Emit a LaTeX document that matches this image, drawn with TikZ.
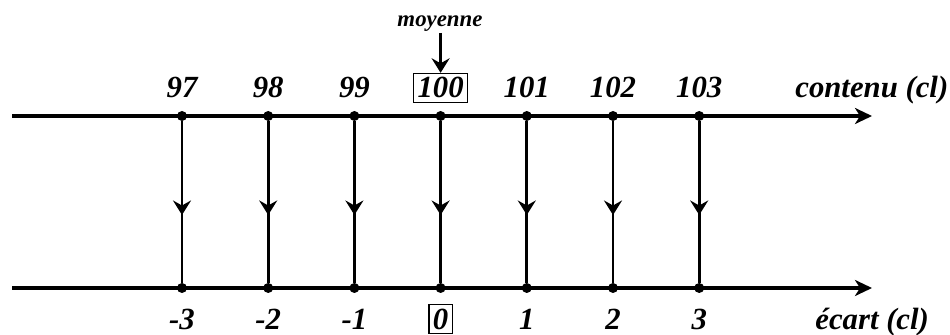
\documentclass[tikz,border=0pt]{standalone}
\usepackage{fontspec}
\setmainfont{Liberation Serif}
\usetikzlibrary{arrows.meta, positioning}

\begin{document}
\begin{tikzpicture}[>={Stealth[length=3.4mm, width=3.2mm, inset=1mm]}, font=\fontsize{17.5}{20}\selectfont\bfseries\itshape]
	\tikzstyle{dot} = [circle, fill, inner sep=0pt, minimum size=2mm]
	\tikzstyle{lab} = [anchor=base, inner sep=2.3pt]
	\tikzstyle{axis} = [line width=1.9pt]
	\tikzstyle{link} = [line width=1.6pt]
	\tikzstyle{midtip} = [-{Stealth[length=2.9mm, width=3.6mm, inset=1mm]}]

	\useasboundingbox (0,0) rectangle (19,6.7);

	% axes
	\coordinate (top0) at (0.24,4.38);
	\coordinate (top1) at (17.44,4.38);
	\coordinate (bot0) at (0.24,0.94);
	\coordinate (bot1) at (17.44,0.94);
	\draw[axis, ->] (top0) -- (top1);
	\draw[axis, ->] (bot0) -- (bot1);
	\node[anchor=base west, inner sep=0pt] (contenu) at (15.9,4.74) {contenu (cl)};
	\node[anchor=base west, inner sep=0pt] (ecart) at (16.3,0.12) {écart (cl)};

	% ticks
	\foreach \i/\v/\e in {0/97/-3, 1/98/-2, 2/99/-1, 4/101/1, 5/102/2, 6/103/3}{
		\node[dot] (t\i) at (3.64+1.724*\i,4.38) {};
		\node[dot] (b\i) at (3.64+1.724*\i,0.94) {};
		\coordinate (m\i) at (3.64+1.724*\i,2.4);
		\node[lab] (v\i) at (3.64+1.724*\i,4.74) {\v};
		\node[lab] (e\i) at (3.64+1.724*\i,0.12) {\e};
		\draw[link] (t\i) -- (b\i);
		\draw[link, midtip] (t\i) -- (m\i);
	}

	% moyenne
	\node[dot] (t3) at (8.812,4.38) {};
	\node[dot] (b3) at (8.812,0.94) {};
	\coordinate (m3) at (8.812,2.4);
	\node[lab, draw, thick] (v3) at (8.812,4.74) {100};
	\node[lab, draw, thick] (e3) at (8.812,0.12) {0};
	\draw[link] (t3) -- (b3);
	\draw[link, midtip] (t3) -- (m3);
	\node[anchor=base, inner sep=0pt, font=\fontsize{13}{15}\selectfont\bfseries\itshape] (moy) at (8.8,6.16) {moyenne};
	\coordinate (moyfoot) at (8.812,6.04);
	\draw[link, midtip] (moyfoot) -- (v3.north);
\end{tikzpicture}
\end{document}
